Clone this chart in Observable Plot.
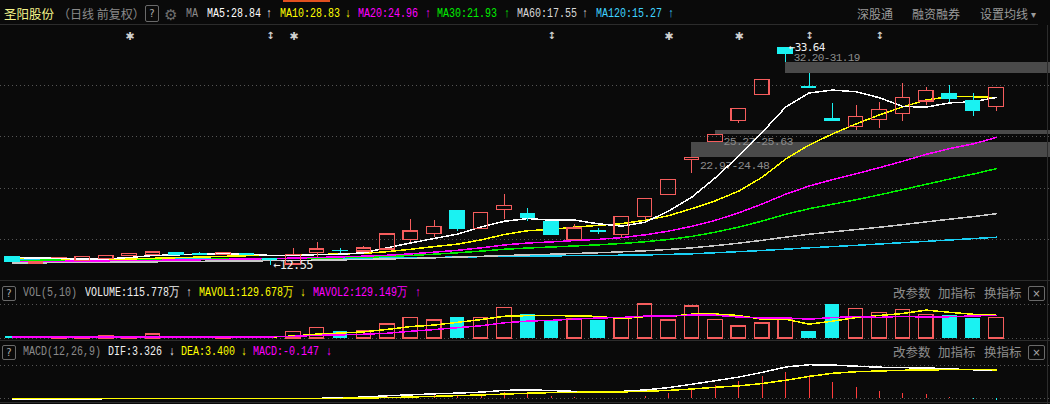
<!DOCTYPE html>
<html><head><meta charset="utf-8">
<script src="https://cdn.jsdelivr.net/npm/d3@7"></script>
<script src="https://cdn.jsdelivr.net/npm/@observablehq/plot@0.6"></script>
<style>
html,body{margin:0;padding:0;background:#0a0a0a;}
#wrap{position:relative;width:1050px;height:404px;overflow:hidden;background:#0a0a0a;font-family:"Liberation Mono","DejaVu Sans Mono",monospace;}
.t{position:absolute;white-space:nowrap;font-size:12.5px;line-height:16px;transform:scaleX(0.8);transform-origin:0 50%;}
.cn{font-family:"Noto Sans CJK SC",sans-serif;transform:none;font-size:12px;}
.box{position:absolute;border:1px solid #6a6a6a;border-radius:2px;color:#aaa;font-size:10px;text-align:center;font-family:"DejaVu Sans",sans-serif;}
.sep{position:absolute;background:#2c2c2c;}
#wrap svg{position:absolute;left:0;}
</style></head>
<body><div id="wrap"></div>
<script>
// ---------- data ----------
const stockName = "圣阳股份";
const opens  = [13.30,12.69,13.22,12.94,13.14,13.43,13.52,13.72,13.62,13.52,13.62,13.17,12.62,13.72,13.95,13.88,14.08,14.98,15.60,17.77,16.05,17.93,17.57,16.70,14.98,15.85,15.50,17.25,19.39,22.75,24.48,26.57,29.06,33.64,29.90,26.73,25.95,26.67,27.25,28.45,29.13,28.54,27.89];
const highs  = [13.40,12.86,13.28,13.40,13.48,13.65,13.88,13.79,13.79,13.75,13.72,13.20,14.17,14.76,14.15,14.37,15.60,16.99,16.89,17.80,17.70,19.42,18.06,16.72,16.48,16.09,17.27,19.02,20.86,22.97,25.27,27.76,30.55,33.64,31.19,28.25,28.03,28.35,30.19,29.81,30.00,29.22,29.78];
const lows   = [12.88,12.66,13.20,12.92,13.12,13.40,13.50,13.57,13.56,13.50,13.48,12.55,12.60,13.27,13.72,13.85,14.05,14.79,15.27,15.85,16.00,17.02,16.83,15.45,14.95,15.56,15.15,16.89,19.37,21.43,24.48,26.34,29.04,32.20,29.78,26.60,25.63,25.85,26.53,28.06,28.38,27.02,27.50];
const closes = [12.91,12.82,13.25,13.37,13.43,13.62,13.79,13.59,13.58,13.72,13.50,13.08,13.52,14.08,13.93,14.17,15.53,15.83,16.28,16.05,17.64,18.32,17.12,15.47,16.12,15.81,17.25,19.00,20.84,22.97,25.21,27.74,30.55,33.08,29.78,26.60,26.96,27.64,28.81,29.49,28.64,27.50,29.78];

const ma5   = [13.28,13.27,13.20,13.15,13.16,13.30,13.49,13.56,13.60,13.65,13.64,13.50,13.48,13.58,13.62,13.76,14.25,14.71,15.15,15.57,16.27,16.82,17.08,16.92,16.93,16.57,16.35,16.73,17.80,19.17,21.05,23.15,25.46,27.91,29.27,29.55,29.39,28.81,27.96,27.90,28.31,28.42,28.84];
const ma10  = [13.22,13.20,13.18,13.16,13.15,13.16,13.22,13.28,13.34,13.41,13.47,13.50,13.52,13.59,13.64,13.70,13.87,14.10,14.36,14.60,15.01,15.54,15.90,16.03,16.25,16.42,16.59,16.91,17.36,18.05,18.81,19.75,21.10,22.86,24.22,25.30,26.27,27.14,27.93,28.59,28.93,28.91,28.83];
const ma20  = [12.92,12.92,12.93,12.95,12.98,13.00,13.02,13.05,13.08,13.12,13.16,13.19,13.24,13.30,13.36,13.43,13.52,13.65,13.82,14.00,14.24,14.52,14.71,14.81,14.95,15.06,15.23,15.50,15.86,16.33,16.91,17.64,18.50,19.45,20.24,20.86,21.43,22.02,22.65,23.32,23.87,24.33,24.96];
const ma30  = [13.02,13.03,13.04,13.05,13.06,13.07,13.08,13.10,13.12,13.14,13.16,13.17,13.20,13.23,13.27,13.32,13.40,13.50,13.62,13.76,13.92,14.10,14.22,14.32,14.42,14.53,14.66,14.83,15.05,15.35,15.76,16.26,16.84,17.49,18.04,18.47,18.91,19.38,19.89,20.41,20.92,21.40,21.93];
const ma60  = [12.77,12.78,12.80,12.82,12.84,12.86,12.88,12.91,12.93,12.95,12.97,12.99,13.01,13.04,13.07,13.11,13.16,13.21,13.27,13.34,13.41,13.49,13.56,13.62,13.69,13.76,13.85,13.95,14.08,14.24,14.45,14.69,14.97,15.28,15.56,15.79,16.01,16.24,16.49,16.76,17.02,17.27,17.55];
const ma120 = [13.10,13.11,13.12,13.13,13.14,13.15,13.15,13.16,13.17,13.17,13.18,13.19,13.20,13.21,13.22,13.24,13.26,13.28,13.31,13.34,13.38,13.42,13.44,13.46,13.48,13.50,13.52,13.55,13.60,13.66,13.76,13.87,13.98,14.11,14.24,14.36,14.48,14.61,14.74,14.87,15.00,15.13,15.27];

// volume in 万
const volumes = [11,5,7,8,11,6,22,6,8,8,8,9,37,60,39,41,78,116,101,117,116,172,134,101,110,101,110,190,101,179,105,67,84,105,39,190,166,144,160.5,132.6,128.6,111.9,115.778];
const mavol5  = [9,9,8.5,8.5,8.4,7.4,10.8,10.6,10.6,10,10.4,7.8,14,24.4,30.6,37.2,51,66.8,75,90.6,105.6,124.4,128,128,126.6,123.6,111.2,122.4,122.4,136.2,137,128.4,107.2,108,80,97,116.8,128.8,139.9,158.6,146.3,135.5,129.678];
const mavol10 = [8,8,8,8,8,8,8.5,8.5,8.8,9.2,8.9,9.3,12.3,17.5,20.3,23.8,29.4,40.5,49.8,60.6,71.4,87.7,97.4,101.5,108.6,114.6,117.8,125.2,125.2,131.4,130.3,119.8,114.8,115.2,108.1,117,122.6,118,124,119.3,121.7,126.2,129.149];

const dif  = [0.02,0.01,0.00,0.01,0.03,0.05,0.07,0.08,0.08,0.08,0.07,0.05,0.05,0.07,0.14,0.22,0.38,0.48,0.60,0.68,0.80,1.00,1.07,0.98,0.88,0.82,0.88,1.05,1.33,1.72,2.13,2.55,3.10,3.72,3.99,3.95,3.82,3.70,3.64,3.62,3.50,3.40,3.326];
const dea  = [0.03,0.03,0.03,0.03,0.03,0.04,0.05,0.06,0.07,0.07,0.07,0.07,0.06,0.06,0.08,0.11,0.16,0.23,0.31,0.39,0.47,0.57,0.67,0.74,0.78,0.80,0.82,0.89,1.00,1.16,1.36,1.53,1.80,2.18,2.63,2.99,3.17,3.26,3.34,3.38,3.42,3.41,3.400];
const macd = [-0.02,-0.03,-0.02,0.01,0.02,0.03,0.03,0.02,0.01,0.01,-0.01,-0.03,-0.01,0.05,0.06,0.15,0.38,0.40,0.50,0.42,0.44,0.78,0.66,0.30,0.17,0.06,0.10,0.28,0.62,1.08,1.54,2.04,2.60,3.08,2.72,1.92,1.30,0.88,0.60,0.48,0.17,-0.02,-0.147];

// gaps (unfilled price gaps)
const gapLo = [31.19, 25.27, 22.97];
const gapHi = [32.20, 25.63, 24.48];
const gapStart = [33, 30, 29];
const gapLabels = ["32.20-31.19", "25.27-25.63", "22.97-24.48"];

// event markers on top row (candle indices)
const starMarks = [5, 12, 28, 31];
const arrowMarks = [11, 23, 34, 37];

// grid tick values
const priceGrid = [15, 20, 25, 30];
const volGrid = [0, 190];
const macdGrid = [0, 3.9];

// ---------- build ----------
const N = closes.length;
const idx = d3.range(N);
const rows = idx.map(i => ({i, o: opens[i], h: highs[i], l: lows[i], c: closes[i], v: volumes[i],
  up: closes[i] >= opens[i],
  vup: i === 0 ? closes[i] >= opens[i] : closes[i] >= closes[i - 1]}));
const gaps = gapLo.map((lo, k) => ({lo, hi: gapHi[k], start: gapStart[k], label: gapLabels[k]}));

const RED = "#f55d5d", CYAN = "#1af2f2", MRED = "#ff3c3c";
const HALF = 0.31;
const xOpt = {domain: [-0.51, N + 1.3], axis: null};
const baseStyle = {background: "transparent", overflow: "visible", fontFamily: "Liberation Mono, DejaVu Sans Mono, monospace", shapeRendering: "crispEdges", letterSpacing: "-0.6px"};
const C = {ma5: "#ffffff", ma10: "#ffff00", ma20: "#ff00ff", ma30: "#00ee00", ma60: "#c8c8c8", ma120: "#19d0f5"};

const wrap = document.getElementById("wrap");

const maxI = d3.maxIndex(highs), minI = d3.minIndex(lows);

const main = Plot.plot({
  width: 1050, height: 257, margin: 0,
  x: xOpt, y: {domain: [10.97, 35.92], axis: null},
  style: baseStyle,
  marks: [
    Plot.ruleY(priceGrid, {y: d => d, stroke: "#555", strokeDasharray: "1,3"}),
    Plot.rect(gaps, {x1: "start", x2: () => N + 1.3, y1: "lo", y2: "hi", fill: "#4a4a4a"}),
    Plot.text(gaps.filter((g, k) => k === 0), {x: "start", y: "hi", text: "label", dx: 8, dy: -5.5, textAnchor: "start", fill: "#8c8c8c", fontSize: 11}),
    Plot.text(gaps.filter((g, k) => k > 0), {x: "start", y: "lo", text: "label", dx: 8, dy: 7, textAnchor: "start", fill: "#8c8c8c", fontSize: 11.5}),
    Plot.line(idx, {x: d => d, y: d => ma120[d], stroke: C.ma120}),
    Plot.line(idx, {x: d => d, y: d => ma60[d], stroke: C.ma60}),
    Plot.line(idx, {x: d => d, y: d => ma30[d], stroke: C.ma30}),
    Plot.line(idx, {x: d => d, y: d => ma20[d], stroke: C.ma20}),
    Plot.line(idx, {x: d => d, y: d => ma10[d], stroke: C.ma10}),
    Plot.line(idx, {x: d => d, y: d => ma5[d], stroke: C.ma5}),
    // wicks
    Plot.ruleX(rows.filter(d => d.up), {x: "i", y1: "h", y2: d => Math.max(d.o, d.c), stroke: RED}),
    Plot.ruleX(rows.filter(d => d.up), {x: "i", y1: d => Math.min(d.o, d.c), y2: "l", stroke: RED}),
    Plot.ruleX(rows.filter(d => !d.up), {x: "i", y1: "h", y2: "l", stroke: CYAN}),
    // bodies
    Plot.rect(rows.filter(d => d.up), {x1: d => d.i - HALF, x2: d => d.i + HALF, y1: "o", y2: "c", stroke: RED, fill: "none", strokeWidth: 1.2}),
    Plot.rect(rows.filter(d => !d.up), {x1: d => d.i - HALF, x2: d => d.i + HALF, y1: "o", y2: "c", stroke: CYAN, fill: CYAN}),
    // extremes
    Plot.text([maxI], {x: d => d, y: d => highs[d], text: d => "←" + highs[d].toFixed(2), dx: 3, dy: -1, textAnchor: "start", fill: "#f0f0f0", fontSize: 11, fontFamily: "DejaVu Sans Mono"}),
    Plot.text([minI], {x: d => d, y: d => lows[d], text: d => "←" + lows[d].toFixed(2), dx: 3, textAnchor: "start", fill: "#f0f0f0", fontSize: 12, fontFamily: "DejaVu Sans Mono"}),
    // markers
    Plot.text(starMarks, {x: d => d, frameAnchor: "top", dy: 8, text: () => "✱", fill: "#d0d0d0", fontSize: 11, fontFamily: "DejaVu Sans"}),
    Plot.text(arrowMarks, {x: d => d, frameAnchor: "top", dy: 7, text: () => "↕", fill: "#d0d0d0", fontSize: 10, fontWeight: "bold", fontFamily: "DejaVu Sans"})
  ]
});
main.style.top = "24px";
wrap.appendChild(main);

const vol = Plot.plot({
  width: 1050, height: 40, margin: 0,
  x: xOpt, y: {domain: [-11.2, 212.5], axis: null},
  style: baseStyle,
  marks: [
    Plot.ruleY(volGrid, {y: d => d, stroke: "#555", strokeDasharray: "1,3"}),
    Plot.rect(rows.filter(d => d.vup), {x1: d => d.i - HALF, x2: d => d.i + HALF, y1: 0, y2: "v", stroke: RED, fill: "none", strokeWidth: 1.2}),
    Plot.rect(rows.filter(d => !d.vup), {x1: d => d.i - HALF, x2: d => d.i + HALF, y1: 0, y2: "v", fill: CYAN}),
    Plot.line(idx, {x: d => d, y: d => mavol5[d], stroke: "#ffff00"}),
    Plot.line(idx, {x: d => d, y: d => mavol10[d], stroke: "#ff00ff"})
  ]
});
vol.style.top = "300px";
wrap.appendChild(vol);

const mc = Plot.plot({
  width: 1050, height: 42, margin: 0,
  x: xOpt, y: {domain: [-0.41, 4.48], axis: null},
  style: baseStyle,
  marks: [
    Plot.ruleY(macdGrid, {y: d => d, stroke: "#555", strokeDasharray: "1,3"}),
    Plot.ruleX(idx.filter(i => macd[i] >= 0), {x: d => d, y1: 0, y2: d => macd[d], stroke: MRED, strokeWidth: 1}),
    Plot.ruleX(idx.filter(i => macd[i] < 0), {x: d => d, y1: 0, y2: d => macd[d], stroke: CYAN, strokeWidth: 1}),
    Plot.line(idx, {x: d => d, y: d => dif[d], stroke: "#ffffff"}),
    Plot.line(idx, {x: d => d, y: d => dea[d], stroke: "#ffff00"})
  ]
});
mc.style.top = "360px";
wrap.appendChild(mc);

// ---------- headers ----------
function txt(x, yc, s, color, cls, size) {
  const d = document.createElement("div");
  d.className = "t " + (cls || "");
  d.style.left = x + "px"; d.style.top = (yc - 8) + "px"; d.style.color = color;
  if (size) d.style.fontSize = size + "px";
  d.textContent = s; wrap.appendChild(d);
}
function box(x, y, w, h, s) {
  const d = document.createElement("div");
  d.className = "box";
  Object.assign(d.style, {left: x + "px", top: y + "px", width: w + "px", height: h + "px", lineHeight: h + "px"});
  d.textContent = s; wrap.appendChild(d);
}
function sep(x, y, w, h) {
  const d = document.createElement("div");
  d.className = "sep";
  Object.assign(d.style, {left: x + "px", top: y + "px", width: w + "px", height: h + "px"});
  wrap.appendChild(d);
}
const arrow = a => a[a.length - 1] >= a[a.length - 2] ? "↑" : "↓";
const last = a => a[a.length - 1];

// top bar accent
const acc = document.createElement("div");
Object.assign(acc.style, {position: "absolute", left: "283px", top: "0px", width: "47px", height: "2px", background: "#e2501f"});
wrap.appendChild(acc);

sep(0, 24, 1038, 1);
sep(0, 280, 1050, 1);
sep(0, 340, 1050, 1);
sep(0, 402, 1050, 1);
sep(1047, 25, 1, 380);

// row 1
txt(4, 14, stockName, "#f4f48a", "cn", 12.5);
txt(58, 14, "（日线 前复权）", "#8a8a8a", "cn", 12);
box(145, 5, 12, 15, "?");
txt(164, 14, "⚙", "#6f6f6f", "cn", 15);
txt(186, 14, "MA", "#8a8a8a");
const maList = [["MA5", ma5, C.ma5, 207, 266], ["MA10", ma10, C.ma10, 280, 345], ["MA20", ma20, C.ma20, 358, 425], ["MA30", ma30, C.ma30, 437, 504], ["MA60", ma60, "#d8d8d8", 517, 582], ["MA120", ma120, "#3fd2ff", 596, 668]];
for (const [name, arr, col, x, ax] of maList) {
  txt(x, 14, name + ":" + last(arr).toFixed(2), col);
  txt(ax, 14, arrow(arr), col);
}
txt(857, 14, "深股通", "#9a9a9a", "cn", 12);
txt(912, 14, "融资融券", "#9a9a9a", "cn", 12);
txt(980, 14, "设置均线", "#9a9a9a", "cn", 12);
txt(1031, 14, "▾", "#9a9a9a", "cn", 10);

// row 2 (volume)
box(2, 286, 12, 13, "?");
txt(23, 293, "VOL(5,10)", "#8a8a8a");
txt(85, 293, "VOLUME:" + last(volumes).toFixed(3) + "万", "#f0f0f0");
txt(186, 293, arrow(volumes), "#f0f0f0");
txt(199, 293, "MAVOL1:" + last(mavol5).toFixed(3) + "万", "#ffff00");
txt(300, 293, arrow(mavol5), "#ffff00");
txt(313, 293, "MAVOL2:" + last(mavol10).toFixed(3) + "万", "#ff00ff");
txt(415, 293, arrow(mavol10), "#ff00ff");

// row 3 (macd)
box(2, 345, 12, 13, "?");
txt(23, 352, "MACD(12,26,9)", "#8a8a8a");
txt(108, 352, "DIF:" + last(dif).toFixed(3), "#f0f0f0");
txt(169, 352, arrow(dif), "#f0f0f0");
txt(181, 352, "DEA:" + last(dea).toFixed(3), "#ffff00");
txt(241, 352, arrow(dea), "#ffff00");
txt(253, 352, "MACD:" + last(macd).toFixed(3), "#ff00ff");
txt(326, 352, arrow(macd), "#ff00ff");

for (const yc of [293, 352]) {
  txt(893, yc, "改参数", "#8d8d8d", "cn", 12.5);
  txt(938, yc, "加指标", "#8d8d8d", "cn", 12.5);
  txt(984, yc, "换指标", "#8d8d8d", "cn", 12.5);
  box(1028, yc - 7, 15, 13, "×");
}
</script>
</body></html>
